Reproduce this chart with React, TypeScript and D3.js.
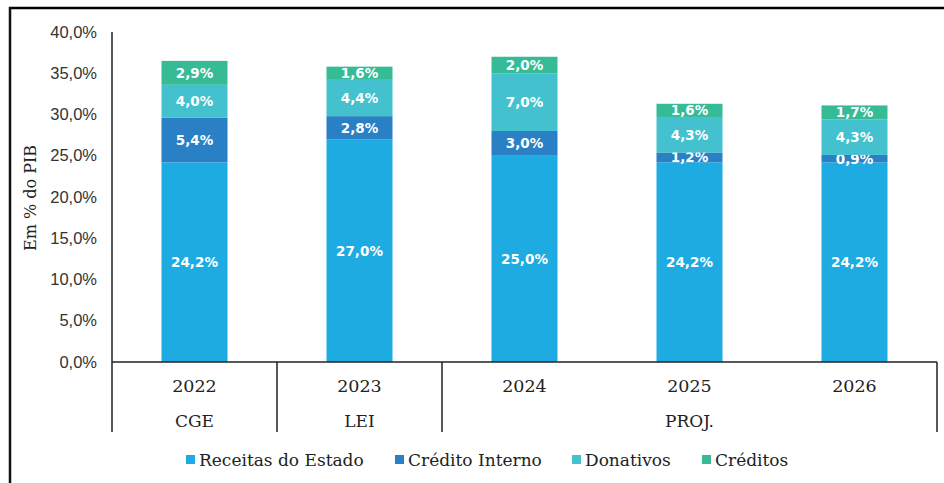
import React from 'react';
import * as d3 from 'd3';

const years = ['2022', '2023', '2024', '2025', '2026'];
const seriesNames = ['Receitas do Estado', 'Crédito Interno', 'Donativos', 'Créditos'];
const receitas = [24.2, 27.0, 25.0, 24.2, 24.2];
const creditoInterno = [5.4, 2.8, 3.0, 1.2, 0.9];
const donativos = [4.0, 4.4, 7.0, 4.3, 4.3];
const creditos = [2.9, 1.6, 2.0, 1.6, 1.7];
const groups = [
  { label: 'CGE', from: 0, to: 0 },
  { label: 'LEI', from: 1, to: 1 },
  { label: 'PROJ.', from: 2, to: 4 },
];
const yTicks = [0, 5, 10, 15, 20, 25, 30, 35, 40];
const colors = ['#1eabe2', '#2a80c4', '#44c1ce', '#36bb96'];

const W = 944;
const H = 483;
const left = 112;
const right = 937;
const top = 32;
const bottom = 362;

const fmt = (v: number) => v.toFixed(1).replace('.', ',');

export default function App() {
  const rows = years.map((y, i) => ({
    year: y,
    s0: receitas[i],
    s1: creditoInterno[i],
    s2: donativos[i],
    s3: creditos[i],
  }));
  const stack = d3.stack<any>().keys(['s0', 's1', 's2', 's3'])(rows);

  const x = d3.scaleBand().domain(years).range([left, right]).paddingInner(0).paddingOuter(0);
  const y = d3.scaleLinear().domain([0, 40]).range([bottom, top]);
  const bw = 66;

  const legendX = [186, 395, 572, 702];

  return (
    <svg width={W} height={H} style={{ position: 'absolute', left: 0, top: 0 }}>
      <rect x={0} y={0} width={W} height={H} fill="#fff" />
      {/* outer frame */}
      <line x1={9} x2={W} y1={8} y2={8} stroke="#000" strokeWidth={2.5} />
      <line x1={10} x2={10} y1={7} y2={H} stroke="#111" strokeWidth={2.5} />

      {/* bars */}
      {stack.map((layer, si) => (
        <g key={si}>
          {layer.map((d, i) => {
            const cx = (x(years[i]) as number) + x.bandwidth() / 2;
            const y0 = y(d[0]);
            const y1 = y(d[1]);
            const v = d[1] - d[0];
            return (
              <g key={i}>
                <rect x={cx - bw / 2} y={y1} width={bw} height={y0 - y1} fill={colors[si]} />
                <text
                  x={cx}
                  y={(y0 + y1) / 2 + 5}
                  textAnchor="middle"
                  fill="#fff"
                  fontFamily="'DejaVu Sans', Verdana, sans-serif"
                  fontWeight="bold"
                  fontSize={13.5}
                >
                  {fmt(v)}%
                </text>
              </g>
            );
          })}
        </g>
      ))}

      {/* y axis */}
      <line x1={left} x2={left} y1={top} y2={bottom} stroke="#222" strokeWidth={1.5} />
      {yTicks.map((t) => (
        <text
          key={t}
          x={97}
          y={y(t) + 5.5}
          textAnchor="end"
          fontFamily="'Liberation Sans', Arial, sans-serif"
          fontSize={16.5}
          fill="#333"
        >
          {fmt(t)}%
        </text>
      ))}
      <text
        transform={`translate(36,198) rotate(-90)`}
        textAnchor="middle"
        fontFamily="'DejaVu Serif', serif"
        fontSize={16}
        fill="#222"
      >
        Em % do PIB
      </text>

      {/* x axis */}
      <line x1={left} x2={right} y1={bottom} y2={bottom} stroke="#222" strokeWidth={1.5} />
      {[0, 1, 2].map((k) => {
        const xx = x(years[k]) as number;
        return <line key={k} x1={xx} x2={xx} y1={bottom} y2={432} stroke="#222" strokeWidth={1.5} />;
      })}
      <line x1={right} x2={right} y1={bottom} y2={432} stroke="#222" strokeWidth={1.5} />
      {years.map((yr) => (
        <text
          key={yr}
          x={(x(yr) as number) + x.bandwidth() / 2}
          y={392}
          textAnchor="middle"
          fontFamily="'DejaVu Serif', serif"
          fontSize={17.5}
          fill="#222"
        >
          {yr}
        </text>
      ))}
      {groups.map((g) => {
        const x0 = x(years[g.from]) as number;
        const x1 = (x(years[g.to]) as number) + x.bandwidth();
        return (
          <text
            key={g.label}
            x={(x0 + x1) / 2}
            y={427}
            textAnchor="middle"
            fontFamily="'DejaVu Serif', serif"
            fontSize={17}
            fill="#222"
          >
            {g.label}
          </text>
        );
      })}

      {/* legend */}
      {seriesNames.map((n, i) => (
        <g key={n}>
          <rect x={legendX[i]} y={455} width={9} height={9} fill={colors[i]} />
          <text
            x={legendX[i] + 13}
            y={466}
            fontFamily="'DejaVu Serif', serif"
            fontSize={17}
            fill="#222"
          >
            {n}
          </text>
        </g>
      ))}
    </svg>
  );
}
